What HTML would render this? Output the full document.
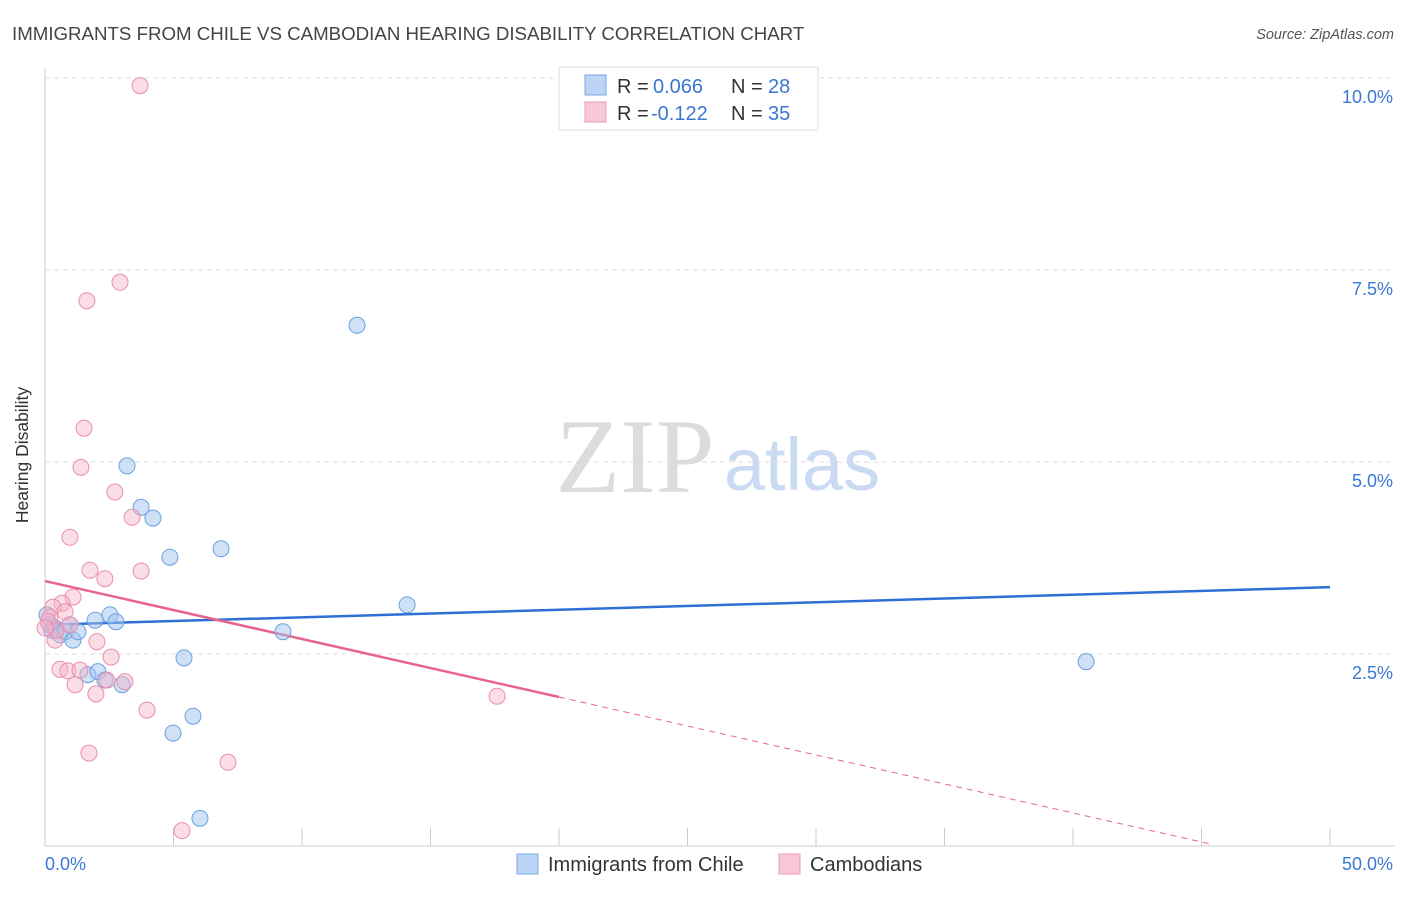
<!DOCTYPE html>
<html><head><meta charset="utf-8"><style>
body{margin:0;background:#fff;font-family:"Liberation Sans",sans-serif;}
svg text{font-family:"Liberation Sans",sans-serif;}
</style></head><body>
<svg id="c" width="1406" height="892">
<text x="12" y="40" font-size="18.7" fill="#444">IMMIGRANTS FROM CHILE VS CAMBODIAN HEARING DISABILITY CORRELATION CHART</text>
<text x="1394" y="39" font-size="14.5" fill="#555" text-anchor="end" font-style="italic">Source: ZipAtlas.com</text>
<text x="28" y="455" font-size="17.5" fill="#333" text-anchor="middle" transform="rotate(-90 28 455)">Hearing Disability</text>
<g>
<text x="635" y="492" font-size="106" fill="#dcdcdc" text-anchor="middle" style="font-family:'Liberation Serif',serif">ZIP</text>
<text x="802" y="490" font-size="74" fill="#c9daf2" text-anchor="middle">atlas</text>
</g>
<g id="grid"></g><g id="axes"></g><g id="trends"></g><g id="pts"></g>
<g>
<rect x="559" y="67" width="259" height="63" fill="#fff" stroke="#ddd"/>
<rect x="585" y="75" width="21" height="20" fill="#bcd4f5" stroke="#7aa6e6"/>
<rect x="585" y="102" width="21" height="20" fill="#f9c8d6" stroke="#ee9bb5"/>
<text x="617" y="93" font-size="20" fill="#333">R = </text><text x="653" y="93" font-size="20" fill="#3a78d4">0.066</text>
<text x="731" y="93" font-size="20" fill="#333">N = </text><text x="768" y="93" font-size="20" fill="#3a78d4">28</text>
<text x="617" y="120" font-size="20" fill="#333">R = </text><text x="651" y="120" font-size="20" fill="#3a78d4">-0.122</text>
<text x="731" y="120" font-size="20" fill="#333">N = </text><text x="768" y="120" font-size="20" fill="#3a78d4">35</text>
</g>
<g>
<rect x="517" y="854" width="21" height="20" fill="#bcd4f5" stroke="#7aa6e6"/>
<text x="548" y="871" font-size="20" fill="#333">Immigrants from Chile</text>
<rect x="779" y="854" width="21" height="20" fill="#f9c8d6" stroke="#ee9bb5"/>
<text x="810" y="871" font-size="20" fill="#333">Cambodians</text>
</g>
</svg>
<script>
const blueX=[0.08,0.19,0.27,0.39,0.58,0.78,0.97,1.09,1.28,1.67,1.95,2.06,2.33,2.53,2.76,3.00,3.19,3.74,4.20,4.86,4.98,5.41,5.76,6.03,6.85,9.26,12.14,14.09,40.51];
const blueY=[3.01,2.88,2.81,2.84,2.75,2.79,2.88,2.68,2.79,2.23,2.94,2.27,2.16,3.01,2.92,2.10,4.95,4.41,4.27,3.76,1.47,2.45,1.69,0.36,3.87,2.79,6.78,3.14,2.40];
const pinkX=[3.70,2.92,1.63,1.52,1.40,2.72,3.39,0.97,1.75,3.74,2.33,1.09,0.66,0.31,0.19,0.12,0.39,0.78,2.02,2.57,0.58,0.89,1.36,1.17,2.41,3.11,1.98,3.97,1.71,7.12,5.33,17.59,0.43,0.0,0.97];
const pinkY=[9.90,7.34,7.10,5.44,4.93,4.61,4.28,4.02,3.59,3.58,3.48,3.24,3.16,3.11,2.98,2.92,2.68,3.05,2.66,2.46,2.30,2.28,2.29,2.10,2.16,2.14,1.98,1.77,1.21,1.09,0.20,1.95,2.81,2.84,2.88];
const blueTrend=[2.88,3.37]; // value at x=0, x=50
const pinkTrend=[3.45,-0.0755]; // intercept, slope
const pinkSolidEnd=20, pinkDashEnd=45.3;
const yTicks=[2.5,5.0,7.5,10.0];
const yTickLabels=["2.5%","5.0%","7.5%","10.0%"];
const xTicks=[0,5,10,15,20,25,30,35,40,45,50];

const NS="http://www.w3.org/2000/svg";
const X=v=>45+v*25.7, Y=v=>846-v*76.8;
function mk(tag,at,parent){const e=document.createElementNS(NS,tag);for(const k in at)e.setAttribute(k,at[k]);document.getElementById(parent).appendChild(e);return e;}
yTicks.forEach((t,i)=>{
 const l=mk('line',{x1:45,x2:1395,y1:Y(t),y2:Y(t),stroke:'#ddd','stroke-dasharray':'5,4'},'grid');
 
 
 const tx=mk('text',{x:1393,y:Y(t)+25,'font-size':18,fill:'#3a78d4','text-anchor':'end'},'grid');
 tx.textContent=yTickLabels[i];
 
 
});
let a=mk('line',{x1:45,x2:45,y1:68,y2:846,stroke:'#ccc'},'axes');


a=mk('line',{x1:45,x2:1395,y1:846,y2:846,stroke:'#ccc'},'axes');


xTicks.forEach(t=>{const l=mk('line',{x1:X(t),x2:X(t),y1:828,y2:846,stroke:'#ccc'},'axes');
 
 });
let t=mk('text',{x:45,y:870,'font-size':18,fill:'#3a78d4'},'axes');t.textContent='0.0%';


t=mk('text',{x:1393,y:870,'font-size':18,fill:'#3a78d4','text-anchor':'end'},'axes');t.textContent='50.0%';


blueX.forEach((x,i)=>{const c=mk('circle',{cx:X(x),cy:Y(blueY[i]),r:8,fill:'rgba(160,195,240,0.5)',stroke:'#6c9fe2','stroke-width':1},'pts');
 
 });
pinkX.forEach((x,i)=>{const c=mk('circle',{cx:X(x),cy:Y(pinkY[i]),r:8,fill:'rgba(246,180,200,0.45)',stroke:'#e98fab','stroke-width':1},'pts');
 
 });
let l=mk('line',{x1:X(0),y1:Y(blueTrend[0]),x2:X(50),y2:Y(blueTrend[1]),stroke:'#2e6fd6','stroke-width':2.5},'trends');


const pf=v=>pinkTrend[0]+pinkTrend[1]*v;
l=mk('line',{x1:X(0),y1:Y(pf(0)),x2:X(pinkSolidEnd),y2:Y(pf(pinkSolidEnd)),stroke:'#e8648f','stroke-width':2.5},'trends');


l=mk('line',{x1:X(pinkSolidEnd),y1:Y(pf(pinkSolidEnd)),x2:X(pinkDashEnd),y2:Y(pf(pinkDashEnd)),stroke:'#e8648f','stroke-width':1,'stroke-dasharray':'6,5'},'trends');


</script>
</body></html>
